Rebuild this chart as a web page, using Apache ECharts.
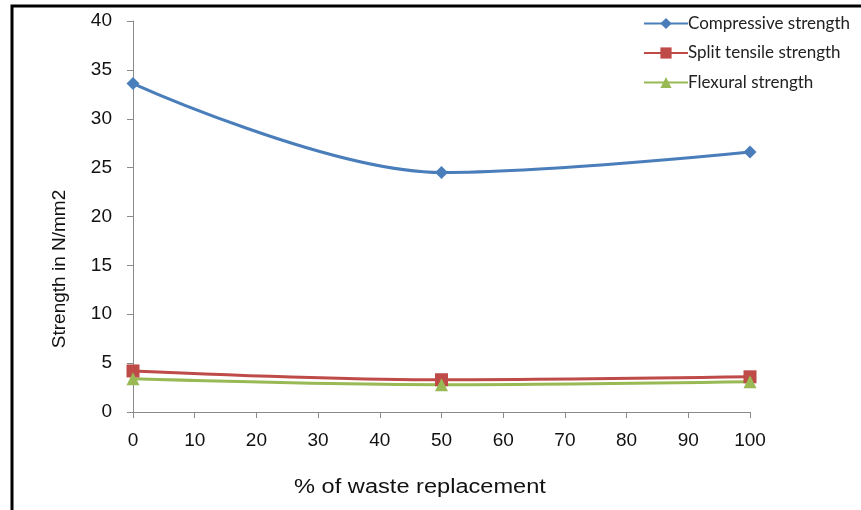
<!DOCTYPE html>
<html><head><meta charset="utf-8">
<script src="https://cdn.jsdelivr.net/npm/echarts@6/dist/echarts.min.js"></script>
<style>html,body{margin:0;padding:0;background:#fff;}#c{width:861px;height:510px;}</style>
</head><body><div id="c"></div>
<script>
const xValues = [0, 50, 100];
const compressive = [33.6, 24.5, 26.6];
const splitTensile = [4.2, 3.3, 3.6];
const flexural = [3.4, 2.8, 3.1];
const seriesNames = ['Compressive strength', 'Split tensile strength', 'Flexural strength'];
const xAxisTitle = '% of waste replacement';
const yAxisTitle = 'Strength in N/mm2';

const pair = arr => xValues.map((x, i) => [x, arr[i]]);
const chart = echarts.init(document.getElementById('c'));
const tickFont = {fontFamily: 'Liberation Sans, Arial', fontSize: 19, color: '#111'};
chart.setOption({
  animation: false,
  backgroundColor: '#fff',
  grid: {left: 133, right: 111, top: 21, bottom: 98},
  legend: {
    orient: 'vertical', left: 638, top: 10, itemWidth: 44, itemHeight: 14, itemGap: 12.5,
    textStyle: {fontFamily: 'Lato', fontSize: 17, color: '#222', padding: [0,0,0,-5]},
    data: seriesNames
  },
  xAxis: {
    type: 'value', min: 0, max: 100, interval: 10,
    splitLine: {show: false},
    axisLine: {lineStyle: {color: '#8a8a8a', width: 1}},
    axisTick: {length: 6, lineStyle: {color: '#8a8a8a'}},
    axisLabel: Object.assign({margin: 19}, tickFont)
  },
  yAxis: {
    type: 'value', min: 0, max: 40, interval: 5,
    splitLine: {show: false},
    axisLine: {show: true, lineStyle: {color: '#8a8a8a', width: 1}},
    axisTick: {show: true, length: 6, lineStyle: {color: '#8a8a8a'}},
    axisLabel: Object.assign({margin: 21}, tickFont)
  },
  graphic: [
    {type: 'rect', shape: {x: 12, y: 6, width: 900, height: 600}, style: {fill: 'none', stroke: '#000', lineWidth: 3}, silent: true},
    {type: 'text', x: 420, y: 487, scaleX: 1.18, style: {text: xAxisTitle, font: '20px "Liberation Sans", Arial', fill: '#111', textAlign: 'center', textVerticalAlign: 'middle'}},
    {type: 'text', x: 60, y: 269, rotation: Math.PI / 2, style: {text: yAxisTitle, font: '19px "Liberation Sans", Arial', fill: '#111', textAlign: 'center', textVerticalAlign: 'middle'}}
  ],
  series: [
    {name: seriesNames[0], type: 'line', smooth: 0.35, data: pair(compressive), symbol: 'diamond', symbolSize: 13,
     lineStyle: {width: 3, color: '#4A7EBB'}, itemStyle: {color: '#4A7EBB'}},
    {name: seriesNames[1], type: 'line', smooth: 0.35, data: pair(splitTensile), symbol: 'rect', symbolSize: 13,
     lineStyle: {width: 3, color: '#BE4B48'}, itemStyle: {color: '#BE4B48'}},
    {name: seriesNames[2], type: 'line', smooth: 0.35, data: pair(flexural), symbol: 'triangle', symbolSize: 13,
     lineStyle: {width: 3, color: '#98B954'}, itemStyle: {color: '#98B954'}}
  ]
});
</script></body></html>
